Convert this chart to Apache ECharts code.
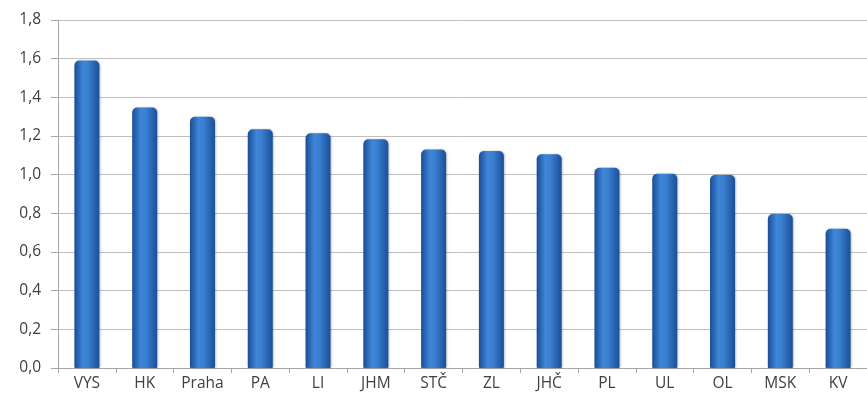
<!DOCTYPE html>
<html>
<head>
<meta charset="utf-8">
<script src="https://cdn.jsdelivr.net/npm/echarts@6/dist/echarts.min.js"></script>
<style>
html,body{margin:0;padding:0;background:#fff;}
#c{width:867px;height:405px;}
</style>
</head>
<body>
<div id="c"></div>
<script>
const categories = ['VYS','HK','Praha','PA','LI','JHM','STČ','ZL','JHČ','PL','UL','OL','MSK','KV'];
const values = [1.59, 1.347, 1.30, 1.235, 1.214, 1.183, 1.13, 1.122, 1.105, 1.036, 1.005, 0.998, 0.797, 0.72];
const yTicks = [0, 0.2, 0.4, 0.6, 0.8, 1.0, 1.2, 1.4, 1.6, 1.8];

const chart = echarts.init(document.getElementById('c'), null, {renderer:'canvas'});
const barColor = new echarts.graphic.LinearGradient(0, 0, 1, 0, [
  {offset: 0, color: '#1a4d94'},
  {offset: 0.35, color: '#3f86d8'},
  {offset: 0.55, color: '#3a7fd0'},
  {offset: 1, color: '#1b4f98'}
]);
chart.setOption({
  animation: false,
  grid: {left: 58, top: 20, bottom: 37, width: 812},
  xAxis: {
    type: 'category',
    data: categories,
    axisLine: {lineStyle: {color: '#a6a6a6', width: 1}},
    axisTick: {show: true, length: 5, lineStyle: {color: '#a6a6a6'}},
    axisLabel: {color: '#404040', fontSize: 15.5, fontFamily: 'Open Sans', margin: 8}
  },
  yAxis: {
    type: 'value',
    min: yTicks[0],
    max: yTicks[yTicks.length - 1],
    interval: 0.2,
    axisLine: {show: true, lineStyle: {color: '#a6a6a6', width: 1}},
    axisTick: {show: true, length: 7, lineStyle: {color: '#a6a6a6'}},
    splitLine: {lineStyle: {color: '#bfbfbf', width: 1}},
    axisLabel: {
      color: '#404040', fontSize: 15.5, fontFamily: 'Open Sans', margin: 17,
      formatter: v => v.toFixed(1).replace('.', ',')
    }
  },
  series: [{
    type: 'bar',
    data: values,
    barWidth: 25,
    itemStyle: {
      color: barColor,
      borderRadius: [5, 5, 1, 1],
      shadowColor: 'rgba(0,0,0,0.25)',
      shadowBlur: 2,
      shadowOffsetX: 1
    }
  }]
});
</script>
</body>
</html>
